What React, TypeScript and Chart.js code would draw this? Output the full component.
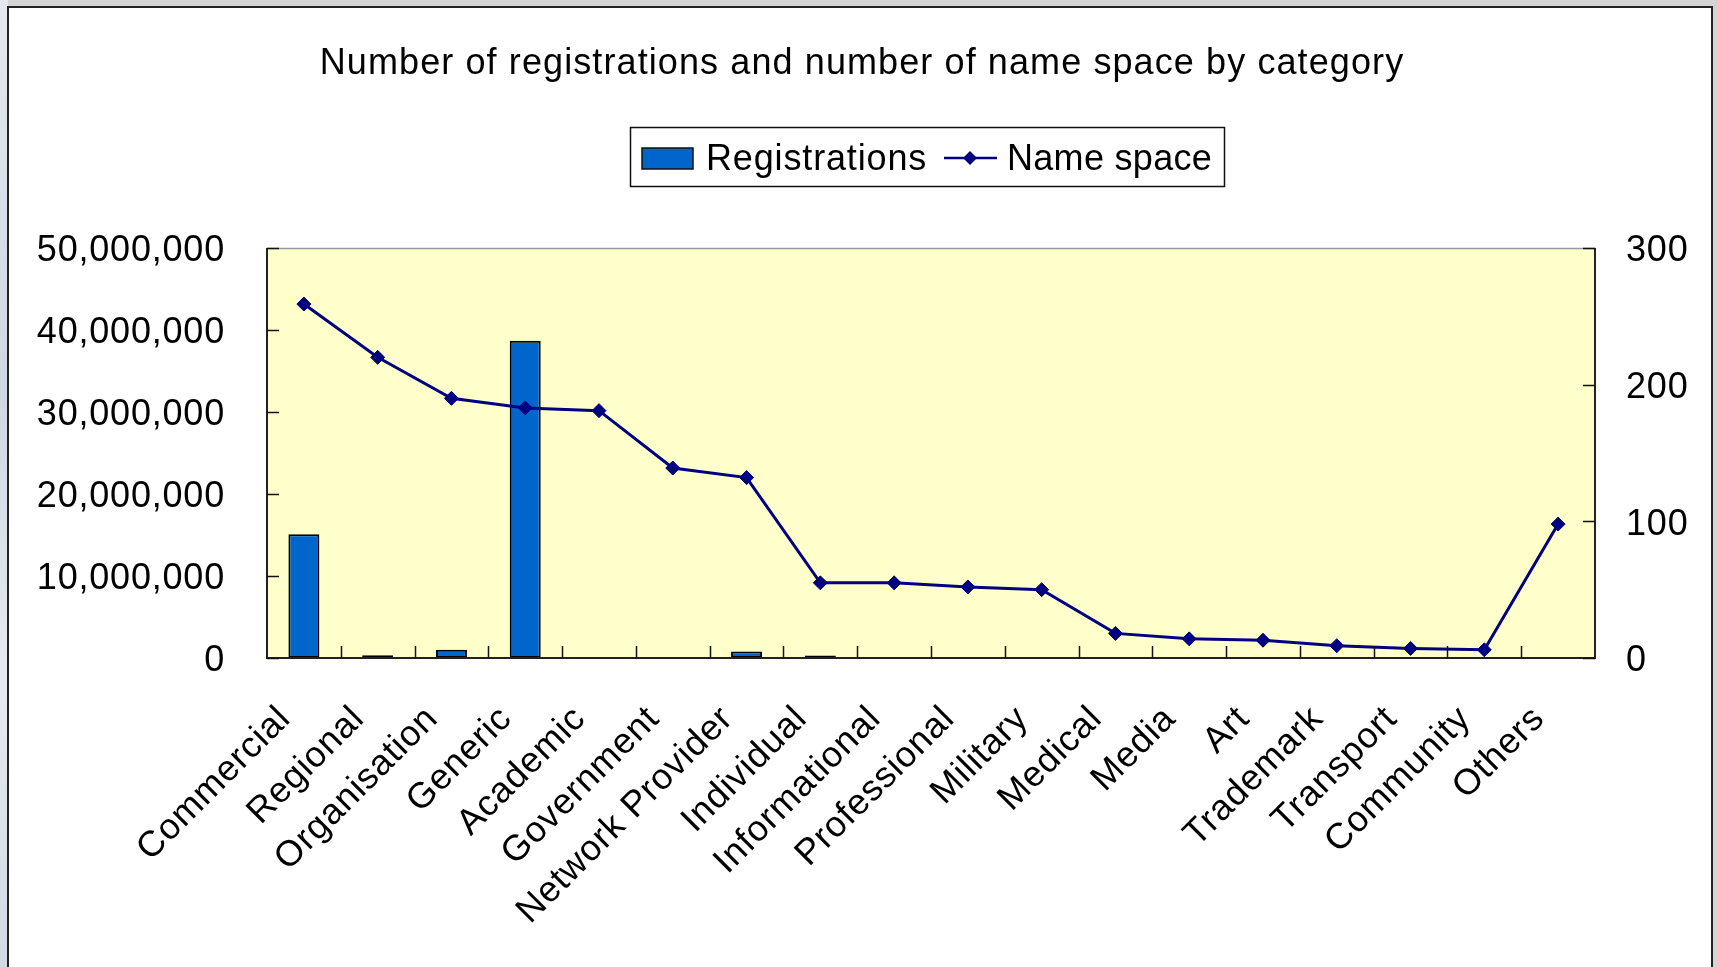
import React, { useEffect, useRef } from "react";
import { Chart, registerables } from "chart.js";

Chart.register(...registerables);

const categories = [
  "Commercial",
  "Regional",
  "Organisation",
  "Generic",
  "Academic",
  "Government",
  "Network Provider",
  "Individual",
  "Informational",
  "Professional",
  "Military",
  "Medical",
  "Media",
  "Art",
  "Trademark",
  "Transport",
  "Community",
  "Others",
];

const registrations: (number | null)[] = [
  15100000, 350000, 1000000, 38700000, null, null, 800000, 300000, null, null,
  null, null, null, null, null, null, null, null,
];

const nameSpace = [259, 220, 190, 183, 181, 139, 132, 55, 55, 52, 50, 18, 14, 13, 9, 7, 6, 98];

const leftAxisMax = 50000000;
const leftAxisStep = 10000000;
const rightAxisMax = 300;
const rightAxisStep = 100;

const titleText = "Number of registrations and number of name space by category";
const legendLabels = ["Registrations", "Name space"];

const FONT = "'Liberation Sans', Arial, sans-serif";
const BAR_COLOR = "#0066CC";
const LINE_COLOR = "#000080";

const plotDecor = {
  id: "plotDecor",
  beforeDraw(chart: any) {
    const { ctx } = chart;
    (ctx as any).letterSpacing = "0.8px";
  },
  beforeDatasetsDraw(chart: any) {
    const { ctx, chartArea } = chart;
    const { left, top, right, bottom } = chartArea;
    ctx.save();
    ctx.fillStyle = "#FFFFCC";
    ctx.fillRect(left, top, right - left, bottom - top);
    ctx.restore();
  },
  afterDatasetsDraw(chart: any) {
    const { ctx, chartArea, scales } = chart;
    const { left, top, right, bottom } = chartArea;
    ctx.save();
    ctx.strokeStyle = "#9a9a9a";
    ctx.lineWidth = 1.5;
    ctx.beginPath();
    ctx.moveTo(left, top + 0.5);
    ctx.lineTo(right, top + 0.5);
    ctx.stroke();
    ctx.strokeStyle = "#222";
    ctx.lineWidth = 2;
    ctx.beginPath();
    ctx.moveTo(left, top);
    ctx.lineTo(left, bottom);
    ctx.lineTo(right, bottom);
    ctx.lineTo(right, top);
    ctx.stroke();
    ctx.lineWidth = 1.5;
    ctx.strokeStyle = "#111";
    const tl = 12;
    ctx.beginPath();
    scales.y.ticks.forEach((t: any) => {
      const y = Math.round(scales.y.getPixelForValue(t.value)) + 0.5;
      ctx.moveTo(left, y);
      ctx.lineTo(left + tl, y);
    });
    scales.y1.ticks.forEach((t: any) => {
      const y = Math.round(scales.y1.getPixelForValue(t.value)) + 0.5;
      ctx.moveTo(right - tl, y);
      ctx.lineTo(right, y);
    });
    const n = categories.length;
    for (let i = 1; i < n; i++) {
      const x = Math.round((scales.x.getPixelForValue(i - 1) + scales.x.getPixelForValue(i)) / 2) + 0.5;
      ctx.moveTo(x, bottom);
      ctx.lineTo(x, bottom - tl);
    }
    ctx.stroke();
    ctx.restore();
  },
  afterDraw(chart: any) {
    const { ctx } = chart;
    ctx.save();
    // title
    ctx.fillStyle = "#000";
    ctx.font = `36px ${FONT}`;
    ctx.textBaseline = "alphabetic";
    ctx.textAlign = "center";
    (ctx as any).letterSpacing = "1.1px";
    ctx.fillText(titleText, 862, 74);
    // legend box
    ctx.strokeStyle = "#111";
    ctx.lineWidth = 1.5;
    ctx.strokeRect(630.5, 127.5, 594, 59);
    ctx.fillStyle = BAR_COLOR;
    ctx.fillRect(642, 148, 51, 21);
    ctx.lineWidth = 1.5;
    ctx.strokeRect(642, 148, 51, 21);
    ctx.fillStyle = "#000";
    ctx.textAlign = "left";
    (ctx as any).letterSpacing = "0.85px";
    ctx.fillText(legendLabels[0], 706, 170);
    ctx.strokeStyle = LINE_COLOR;
    ctx.lineWidth = 2.5;
    ctx.beginPath();
    ctx.moveTo(944, 158);
    ctx.lineTo(997, 158);
    ctx.stroke();
    ctx.fillStyle = LINE_COLOR;
    ctx.beginPath();
    ctx.moveTo(970, 151);
    ctx.lineTo(977, 158);
    ctx.lineTo(970, 165);
    ctx.lineTo(963, 158);
    ctx.closePath();
    ctx.fill();
    ctx.fillStyle = "#000";
    (ctx as any).letterSpacing = "0.3px";
    ctx.fillText(legendLabels[1], 1007, 170);
    ctx.restore();
  },
};

export default function App() {
  const ref = useRef<HTMLCanvasElement | null>(null);

  useEffect(() => {
    if (!ref.current) return;
    const chart = new Chart(ref.current, {
      type: "bar",
      data: {
        labels: categories,
        datasets: [
          {
            type: "line",
            label: legendLabels[1],
            data: nameSpace,
            yAxisID: "y1",
            borderColor: LINE_COLOR,
            backgroundColor: LINE_COLOR,
            borderWidth: 3,
            pointStyle: "rectRot",
            pointRadius: 7,
            pointBorderWidth: 1,
            pointBorderColor: LINE_COLOR,
            tension: 0,
            order: 0,
          } as any,
          {
            type: "bar",
            label: legendLabels[0],
            data: registrations,
            yAxisID: "y",
            backgroundColor: BAR_COLOR,
            borderColor: "#000",
            borderWidth: 2,
            borderSkipped: false,
            barPercentage: 0.42,
            categoryPercentage: 1,
            order: 1,
          } as any,
        ],
      },
      options: {
        responsive: false,
        animation: false,
        devicePixelRatio: 1,
        layout: { padding: { left: 7, right: 0, top: 248, bottom: 0 } },
        plugins: {
          legend: { display: false },
          tooltip: { enabled: false },
          title: { display: false },
        },
        scales: {
          x: {
            offset: true,
            grid: { display: false, drawTicks: false },
            border: { display: false },
            ticks: {
              color: "#000",
              font: { family: FONT, size: 36 },
              autoSkip: false,
              maxRotation: 45,
              minRotation: 45,
              padding: 40,
              labelOffset: -19,
            },
            afterFit(scale: any) {
              scale.height = 309;
            },
          },
          y: {
            position: "left",
            min: 0,
            max: leftAxisMax,
            grid: { display: false, drawTicks: false },
            border: { display: false },
            ticks: {
              stepSize: leftAxisStep,
              color: "#000",
              font: { family: FONT, size: 36 },
              padding: 42,
              labelOffset: 3.5,
              callback: (v: any) => Number(v).toLocaleString("en-US"),
            },
            afterFit(scale: any) {
              scale.width = 260;
            },
          },
          y1: {
            position: "right",
            min: 0,
            max: rightAxisMax,
            grid: { display: false, drawTicks: false },
            border: { display: false },
            ticks: {
              stepSize: rightAxisStep,
              color: "#000",
              font: { family: FONT, size: 36 },
              padding: 31,
              labelOffset: 3.5,
            },
            afterFit(scale: any) {
              scale.width = 122;
            },
          },
        },
      },
      plugins: [plotDecor],
    });
    return () => chart.destroy();
  }, []);

  return (
    <div style={{ position: "fixed", left: 0, top: 0, width: 1717, height: 967, background: "#d4d4d4", overflow: "hidden" }}>
      <div style={{ position: "absolute", left: 0, top: 0, width: 8, height: 967, background: "linear-gradient(180deg, #e4e8ef, #cfd7e2 40%, #e6eaf0 70%, #d2d9e3)" }} />
      <div
        style={{
          position: "absolute",
          left: 7,
          top: 6,
          width: 1706,
          height: 1000,
          boxSizing: "border-box",
          border: "2px solid #222",
          background: "#fff",
        }}
      />
      <canvas ref={ref} width={1717} height={967} style={{ position: "absolute", left: 0, top: 0, width: 1717, height: 967 }} />
    </div>
  );
}
